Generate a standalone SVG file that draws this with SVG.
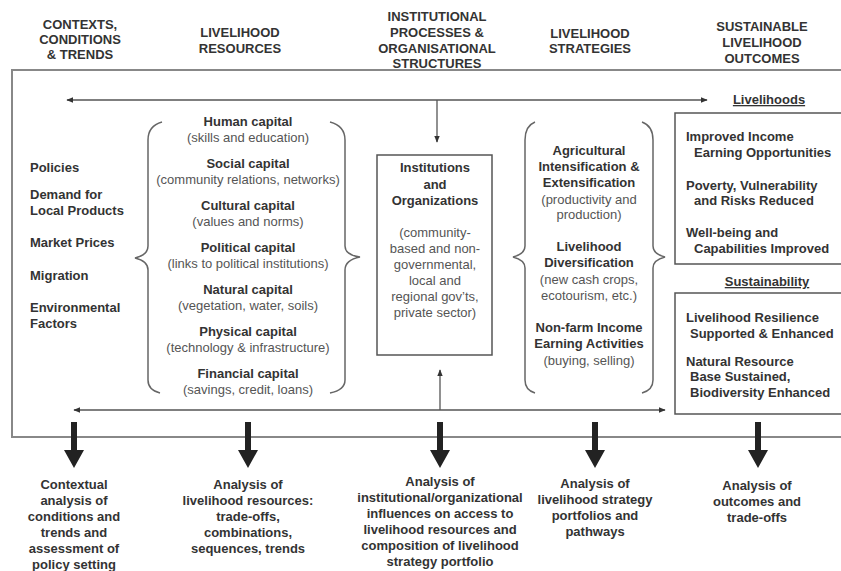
<svg xmlns="http://www.w3.org/2000/svg" width="841" height="571" viewBox="0 0 841 571">
<defs>
<style>
text{font-family:"Liberation Sans",Arial,sans-serif;fill:#333;}
.h{font-size:13px;font-weight:bold;text-anchor:middle;}
.b{font-size:13px;font-weight:bold;}
.bc{font-size:13px;font-weight:bold;text-anchor:middle;}
.r{font-size:13px;fill:#555;text-anchor:middle;}
.a{font-size:13px;font-weight:bold;text-anchor:middle;fill:#333;}
.frame{fill:none;stroke:#888;stroke-width:2;}
.box{fill:none;stroke:#555;stroke-width:1.5;}
.conn{fill:none;stroke:#555;stroke-width:1.3;}
.brace{fill:none;stroke:#666;stroke-width:1.5;}
.thick{fill:#222;stroke:none;}
</style>
<marker id="ah" viewBox="0 0 10 10" refX="9" refY="5" markerWidth="7" markerHeight="7" orient="auto-start-reverse" markerUnits="userSpaceOnUse">
<path d="M0,1 L10,5 L0,9 Z" fill="#333"/>
</marker>
</defs>

<g id="headers">
<text class="h" x="80" y="29">CONTEXTS,</text>
<text class="h" x="80" y="44">CONDITIONS</text>
<text class="h" x="80" y="59">&amp; TRENDS</text>
<text class="h" x="240" y="37">LIVELIHOOD</text>
<text class="h" x="240" y="53">RESOURCES</text>
<text class="h" x="437" y="21">INSTITUTIONAL</text>
<text class="h" x="437" y="37">PROCESSES &amp;</text>
<text class="h" x="437" y="53">ORGANISATIONAL</text>
<text class="h" x="437" y="68">STRUCTURES</text>
<text class="h" x="590" y="38">LIVELIHOOD</text>
<text class="h" x="590" y="53">STRATEGIES</text>
<text class="h" x="762" y="31">SUSTAINABLE</text>
<text class="h" x="762" y="47">LIVELIHOOD</text>
<text class="h" x="762" y="63">OUTCOMES</text>
</g>

<g id="frame">
<path class="frame" d="M843,70 H12 V437 H843"/>
</g>

<g id="contexts">
<text class="b" x="30" y="172">Policies</text>
<text class="b" x="30" y="199">Demand for</text>
<text class="b" x="30" y="215">Local Products</text>
<text class="b" x="30" y="247">Market Prices</text>
<text class="b" x="30" y="280">Migration</text>
<text class="b" x="30" y="312">Environmental</text>
<text class="b" x="30" y="328">Factors</text>
</g>

<g id="resources">
<path class="brace" d="M162,122 Q148,126 148,140 V246 Q148,255 135,258 Q148,261 148,270 V380 Q148,390 160,393"/>
<path class="brace" d="M330,122 Q345,126 345,140 V246 Q345,255 360,257 Q345,260 345,270 V380 Q345,390 330,393"/>
<text class="bc" x="248" y="126">Human capital</text>
<text class="r" x="248" y="142">(skills and education)</text>
<text class="bc" x="248" y="168">Social capital</text>
<text class="r" x="248" y="184">(community relations, networks)</text>
<text class="bc" x="248" y="210">Cultural capital</text>
<text class="r" x="248" y="226">(values and norms)</text>
<text class="bc" x="248" y="252">Political capital</text>
<text class="r" x="248" y="268">(links to political institutions)</text>
<text class="bc" x="248" y="294">Natural capital</text>
<text class="r" x="248" y="310">(vegetation, water, soils)</text>
<text class="bc" x="248" y="336">Physical capital</text>
<text class="r" x="248" y="352">(technology &amp; infrastructure)</text>
<text class="bc" x="248" y="378">Financial capital</text>
<text class="r" x="248" y="394">(savings, credit, loans)</text>
</g>

<g id="institutions">
<rect class="box" x="377" y="155" width="115" height="200"/>
<text class="bc" x="435" y="172">Institutions</text>
<text class="bc" x="435" y="189">and</text>
<text class="bc" x="435" y="205">Organizations</text>
<text class="r" x="435" y="237">(community-</text>
<text class="r" x="435" y="253">based and non-</text>
<text class="r" x="435" y="269">governmental,</text>
<text class="r" x="435" y="285">local and</text>
<text class="r" x="435" y="301">regional gov’ts,</text>
<text class="r" x="435" y="317">private sector)</text>
</g>

<g id="strategies">
<path class="brace" d="M535,122 Q525,126 525,140 V246 Q525,254 513,257 Q525,260 525,268 V380 Q525,390 535,393"/>
<path class="brace" d="M642,122 Q653,126 653,140 V246 Q653,254 665,257 Q653,260 653,268 V380 Q653,390 642,393"/>
<text class="bc" x="589" y="155">Agricultural</text>
<text class="bc" x="589" y="171">Intensification &amp;</text>
<text class="bc" x="589" y="187">Extensification</text>
<text class="r" x="589" y="204">(productivity and</text>
<text class="r" x="589" y="219">production)</text>
<text class="bc" x="589" y="251">Livelihood</text>
<text class="bc" x="589" y="267">Diversification</text>
<text class="r" x="589" y="284">(new cash crops,</text>
<text class="r" x="589" y="300">ecotourism, etc.)</text>
<text class="bc" x="589" y="332">Non-farm Income</text>
<text class="bc" x="589" y="348">Earning Activities</text>
<text class="r" x="589" y="365">(buying, selling)</text>
</g>

<g id="outcomes">
<text class="bc" x="769" y="104" text-decoration="underline">Livelihoods</text>
<rect class="box" x="675" y="113" width="170" height="151"/>
<text class="b" x="686" y="141">Improved Income</text>
<text class="b" x="694" y="157">Earning Opportunities</text>
<text class="b" x="686" y="190">Poverty, Vulnerability</text>
<text class="b" x="694" y="205">and Risks Reduced</text>
<text class="b" x="686" y="237">Well-being and</text>
<text class="b" x="694" y="253">Capabilities Improved</text>
<text class="bc" x="767" y="286" text-decoration="underline">Sustainability</text>
<rect class="box" x="675" y="293" width="170" height="121"/>
<text class="b" x="686" y="322">Livelihood Resilience</text>
<text class="b" x="690" y="338">Supported &amp; Enhanced</text>
<text class="b" x="686" y="366">Natural Resource</text>
<text class="b" x="690" y="381">Base Sustained,</text>
<text class="b" x="690" y="397">Biodiversity Enhanced</text>
</g>

<g id="connectors">
<line class="conn" x1="67" y1="100" x2="707" y2="100" marker-start="url(#ah)" marker-end="url(#ah)"/>
<line class="conn" x1="437" y1="100" x2="437" y2="142" marker-end="url(#ah)"/>
<line class="conn" x1="74" y1="410" x2="665" y2="410" marker-start="url(#ah)" marker-end="url(#ah)"/>
<line class="conn" x1="440" y1="410" x2="440" y2="370" marker-end="url(#ah)"/>
<path class="thick" d="M71,422 H77 V450 H84 L74,468 L64,450 H71 Z"/>
<path class="thick" d="M245,422 H251 V450 H258 L248,468 L238,450 H245 Z"/>
<path class="thick" d="M437,422 H443 V450 H450 L440,468 L430,450 H437 Z"/>
<path class="thick" d="M592,422 H598 V450 H605 L595,468 L585,450 H592 Z"/>
<path class="thick" d="M755,422 H761 V450 H768 L758,468 L748,450 H755 Z"/>
</g>

<g id="analyses">
<text class="a" x="74" y="489">Contextual</text>
<text class="a" x="74" y="505">analysis of</text>
<text class="a" x="74" y="521">conditions and</text>
<text class="a" x="74" y="537">trends and</text>
<text class="a" x="74" y="553">assessment of</text>
<text class="a" x="74" y="569">policy setting</text>
<text class="a" x="248" y="489">Analysis of</text>
<text class="a" x="248" y="505">livelihood resources:</text>
<text class="a" x="248" y="521">trade-offs,</text>
<text class="a" x="248" y="537">combinations,</text>
<text class="a" x="248" y="553">sequences, trends</text>
<text class="a" x="440" y="486">Analysis of</text>
<text class="a" x="440" y="502">institutional/organizational</text>
<text class="a" x="440" y="518">influences on access to</text>
<text class="a" x="440" y="534">livelihood resources and</text>
<text class="a" x="440" y="550">composition of livelihood</text>
<text class="a" x="440" y="566">strategy portfolio</text>
<text class="a" x="595" y="488">Analysis of</text>
<text class="a" x="595" y="504">livelihood strategy</text>
<text class="a" x="595" y="520">portfolios and</text>
<text class="a" x="595" y="536">pathways</text>
<text class="a" x="757" y="490">Analysis of</text>
<text class="a" x="757" y="506">outcomes and</text>
<text class="a" x="757" y="522">trade-offs</text>
</g>
</svg>
